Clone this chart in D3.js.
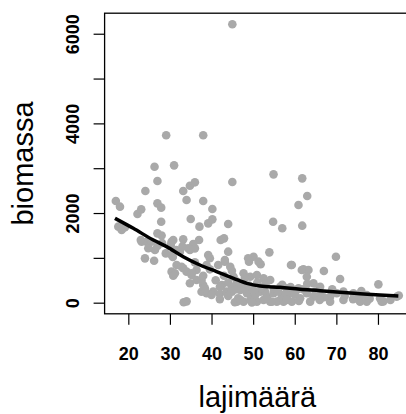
<!DOCTYPE html>
<html>
<head>
<meta charset="utf-8">
<script src="https://cdn.jsdelivr.net/npm/d3@7"></script>
<style>
  html, body { margin: 0; padding: 0; background: #fff; }
  svg { display: block; font-family: "Liberation Sans", Arial, Helvetica, sans-serif; }
</style>
</head>
<body>
<svg id="chart" width="406" height="414"></svg>
<script>
// ---- data ----
const lajimaara = [
  45.0, 29.1, 38.0,
  17.0, 18.0, 17.6, 18.4, 19.2, 22.2, 23.1, 24.1, 26.3, 27.0, 27.0, 27.9, 27.9, 27.0,
  23.2, 24.4, 26.4, 27.0, 24.0, 26.2, 31.0, 33.2, 34.8, 36.0, 34.0, 38.0, 40.2, 35.0,
  37.1, 39.2, 40.2, 30.8, 30.2, 33.2, 37.0, 35.6, 30.4, 31.5, 32.4, 34.8, 36.0, 39.2,
  42.2, 43.0, 44.0, 44.0, 31.2, 31.6, 32.8, 34.0, 35.2, 36.4, 38.8, 39.6, 41.6, 43.2,
  44.5, 44.9, 34.8, 36.4, 38.0, 33.3, 34.0, 38.8, 40.4, 42.0, 43.6, 44.9, 45.3, 46.1,
  45.0, 49.0, 50.1, 51.8, 53.9, 54.9, 54.8, 57.0, 59.1, 60.9, 61.8, 61.8, 63.0,
  47.7, 49.3, 50.9, 52.5, 54.1, 46.9, 48.5, 50.1, 51.7, 53.3, 54.9, 56.5, 58.1, 59.7,
  61.3, 46.1, 47.7, 49.3, 50.9, 52.5, 54.1, 55.7, 57.3, 56.5, 58.1, 60.5,
  62.1, 63.3, 62.9, 67.0, 69.9, 70.9, 64.5, 66.1, 62.9, 64.5, 66.1, 68.5, 70.1, 71.7,
  74.1, 75.7, 77.3, 63.7, 68.5, 71.7, 75.7, 77.3, 80.9, 80.1, 80.5, 81.3, 84.5,
  30.4, 30.8, 33.2, 35.2, 37.6, 37.6, 30.7,
  39.6, 43.2, 48.8, 51.3, 59.3, 61.7, 38.4, 40.0, 42.5, 44.9, 46.4, 48.0, 50.5, 52.9,
  54.5, 56.9, 59.3, 60.9, 45.6, 49.7,
  25.5, 28.1, 24.8, 30.4, 34.4, 23.0,
  41, 42, 43, 44, 46, 47, 48, 49, 50, 51, 52, 53, 55, 56, 57, 58, 59, 60, 62, 63,
  65, 67, 69, 72, 74, 76, 78, 83, 85, 42, 44, 47, 53, 58, 61, 66, 38, 36, 33, 29, 28
];
const biomassa = [
  6210, 3734, 3734,
  2268, 2142, 1696, 1621, 1681, 1978, 2082, 2491, 3034, 2714, 2216, 2120, 1807, 1547,
  1361, 1361, 1175, 1265, 989, 937, 3064, 2491, 2610, 2685, 2291, 2268, 2090, 1867,
  1696, 1770, 1859, 1398, 1287, 1413, 1398, 1309, 1064, 1175, 1138, 1175, 1212, 1064,
  1398, 1435, 1755, 1138, 655, 841, 803, 692, 617, 729, 841, 744, 841, 915,
  803, 714, 432, 506, 395, 10, 30, 209, 246, 194, 246, 357, 580, 469,
  2692, 915, 1026, 856, 1123, 2863, 1807, 1659, 841, 2179, 2774, 1718, 2380,
  655, 580, 617, 543, 506, 283, 209, 134, 246, 134, 209, 60, 134, 209,
  97, 23, 20, 60, 23, 60, 23, 23, 23, 357, 320, 283,
  744, 729, 580, 707, 1026, 528, 432, 357, 209, 134, 171, 134, 209, 246,
  209, 134, 171, 23, 23, 60, 20, 23, 20, 409, 97, 30, 134,
  692, 602, 767, 656, 506, 245, 1020,
  990, 952, 990, 915, 841, 729, 321, 172, 395, 245, 98, 321, 172, 245,
  22, 172, 22, 321, 10, 5,
  1360, 1330, 1213, 1361, 1213, 1400,
  500, 350, 600, 450, 300, 420, 550, 380, 290, 450, 330, 420, 300, 250, 400, 220, 350, 180, 300, 420,
  250, 120, 300, 150, 80, 260, 90, 60, 160, 80, 150, 60, 90, 60, 40, 60, 600, 900, 1250, 1100, 1500
];
// smoothed (lowess) curve
const smoothX = [16.8, 21.2, 26.0, 29.2, 33.2, 37.2, 41.2, 45.3, 48.5, 51.7, 56.5, 61.3, 66.1, 70.9, 75.7, 80.5, 84.9];
const smoothY = [1882, 1659, 1398, 1250, 1026, 841, 692, 543, 432, 372, 342, 298, 268, 231, 201, 171, 149];
const xTicks = [20, 30, 40, 50, 60, 70, 80];
const yTicks = [0, 1000, 2000, 3000, 4000, 5000, 6000];
const yLabelled = [0, 2000, 4000, 6000];
const xTitle = "lajimäärä";
const yTitle = "biomassa";

// ---- drawing ----
const svg = d3.select("#chart");
const x = d3.scaleLinear().domain([14.3, 87.7]).range([104.6, 410]);
const y = d3.scaleLinear().domain([-248, 6458]).range([313.8, 13.2]);

svg.append("clipPath").attr("id", "plotclip")
  .append("rect")
  .attr("x", x.range()[0]).attr("y", y.range()[1])
  .attr("width", x.range()[1] - x.range()[0])
  .attr("height", y.range()[0] - y.range()[1]);

const plot = svg.append("g").attr("clip-path", "url(#plotclip)");

const pts = lajimaara.map((v, i) => ({ x: v, y: biomassa[i] }));
plot.selectAll("circle").data(pts).join("circle")
  .attr("cx", d => x(d.x))
  .attr("cy", d => y(d.y))
  .attr("r", 4.3)
  .attr("fill", "#a9a9a9");

const line = d3.line().x(d => x(d[0])).y(d => y(d[1])).curve(d3.curveMonotoneX);
plot.append("path")
  .datum(smoothX.map((v, i) => [v, smoothY[i]]))
  .attr("d", line)
  .attr("fill", "none")
  .attr("stroke", "#000")
  .attr("stroke-width", 3.5)
  .attr("stroke-linejoin", "round");

// box
svg.append("rect")
  .attr("x", x.range()[0]).attr("y", y.range()[1])
  .attr("width", x.range()[1] - x.range()[0])
  .attr("height", y.range()[0] - y.range()[1])
  .attr("fill", "none").attr("stroke", "#000").attr("stroke-width", 1.3);

// x axis
const gx = svg.append("g")
  .attr("transform", `translate(0,${y.range()[0]})`)
  .call(d3.axisBottom(x).tickValues(xTicks).tickSize(11).tickPadding(22).tickFormat(d3.format("d")));
gx.select(".domain").remove();
gx.selectAll("line").attr("stroke", "#000").attr("stroke-width", 1.2);
gx.selectAll("text").attr("fill", "#000").style("font-size", "18px").style("font-weight", "bold")
  .style("font-family", "'Liberation Sans', Arial, sans-serif");

// y axis
const gy = svg.append("g")
  .attr("transform", `translate(${x.range()[0]},0)`)
  .call(d3.axisLeft(y).tickValues(yTicks).tickSize(11)
    .tickFormat(d => yLabelled.includes(d) ? d3.format("d")(d) : ""));
gy.select(".domain").remove();
gy.selectAll("line").attr("stroke", "#000").attr("stroke-width", 1.2);
gy.selectAll("text")
  .attr("x", null).attr("dy", null)
  .attr("transform", "translate(-26,0) rotate(-90)")
  .attr("text-anchor", "middle")
  .attr("fill", "#000").style("font-size", "18px").style("font-weight", "bold")
  .style("font-family", "'Liberation Sans', Arial, sans-serif");

// titles
svg.append("text")
  .attr("x", (x.range()[0] + x.range()[1]) / 2).attr("y", 407)
  .attr("text-anchor", "middle")
  .style("font-size", "29px")
  .text(xTitle);
svg.append("text")
  .attr("transform", `translate(33,${(y.range()[0] + y.range()[1]) / 2}) rotate(-90)`)
  .attr("text-anchor", "middle")
  .style("font-size", "29px")
  .text(yTitle);
</script>
</body>
</html>
